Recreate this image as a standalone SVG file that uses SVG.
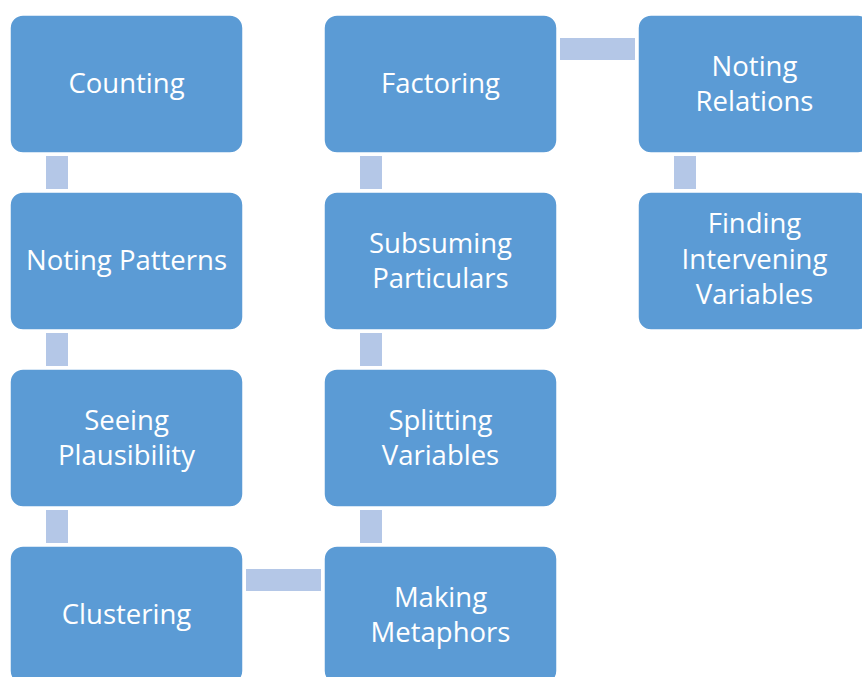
<svg xmlns="http://www.w3.org/2000/svg" width="862" height="677" viewBox="0 0 862 677">
<style>
.box{fill:#5B9BD5;stroke:#FFFFFF;stroke-width:1.5}
.con{fill:#B4C7E7}
text{font-family:"Open Sans","Noto Sans",sans-serif;font-size:27.5px;fill:#FFFFFF;text-anchor:middle}
</style>
<rect width="862" height="677" fill="#FFFFFF"/>
<g id="connectors">
<rect class="con" x="46" y="156" width="22" height="33"/>
<rect class="con" x="46" y="333" width="22" height="33"/>
<rect class="con" x="46" y="510" width="22" height="33"/>
<rect class="con" x="246" y="569" width="75" height="22"/>
<rect class="con" x="360" y="510" width="22" height="33"/>
<rect class="con" x="360" y="333" width="22" height="33"/>
<rect class="con" x="360" y="156" width="22" height="33"/>
<rect class="con" x="560" y="38" width="75" height="22"/>
<rect class="con" x="674" y="156" width="22" height="33"/>
</g>
<g id="counting">
<rect class="box" x="10" y="15" width="233" height="138" rx="13"/>
<text x="126.5" y="92.5">Counting</text>
</g>
<g id="noting-patterns">
<rect class="box" x="10" y="192" width="233" height="138" rx="13"/>
<text x="126.5" y="269.5">Noting Patterns</text>
</g>
<g id="seeing-plausibility">
<rect class="box" x="10" y="369" width="233" height="138" rx="13"/>
<text x="126.5" y="429.5">Seeing</text>
<text x="126.5" y="464.5">Plausibility</text>
</g>
<g id="clustering">
<rect class="box" x="10" y="546" width="233" height="138" rx="13"/>
<text x="126.5" y="623.5">Clustering</text>
</g>
<g id="making-metaphors">
<rect class="box" x="324" y="546" width="233" height="138" rx="13"/>
<text x="440.5" y="606.5">Making</text>
<text x="440.5" y="641.5">Metaphors</text>
</g>
<g id="splitting-variables">
<rect class="box" x="324" y="369" width="233" height="138" rx="13"/>
<text x="440.5" y="429.5">Splitting</text>
<text x="440.5" y="464.5">Variables</text>
</g>
<g id="subsuming-particulars">
<rect class="box" x="324" y="192" width="233" height="138" rx="13"/>
<text x="440.5" y="252.5">Subsuming</text>
<text x="440.5" y="287.5">Particulars</text>
</g>
<g id="factoring">
<rect class="box" x="324" y="15" width="233" height="138" rx="13"/>
<text x="440.5" y="92.5">Factoring</text>
</g>
<g id="noting-relations">
<rect class="box" x="638" y="15" width="233" height="138" rx="13"/>
<text x="754.5" y="75.5">Noting</text>
<text x="754.5" y="110.5">Relations</text>
</g>
<g id="finding-intervening-variables">
<rect class="box" x="638" y="192" width="233" height="138" rx="13"/>
<text x="754.5" y="233">Finding</text>
<text x="754.5" y="268.5">Intervening</text>
<text x="754.5" y="304">Variables</text>
</g>
</svg>
